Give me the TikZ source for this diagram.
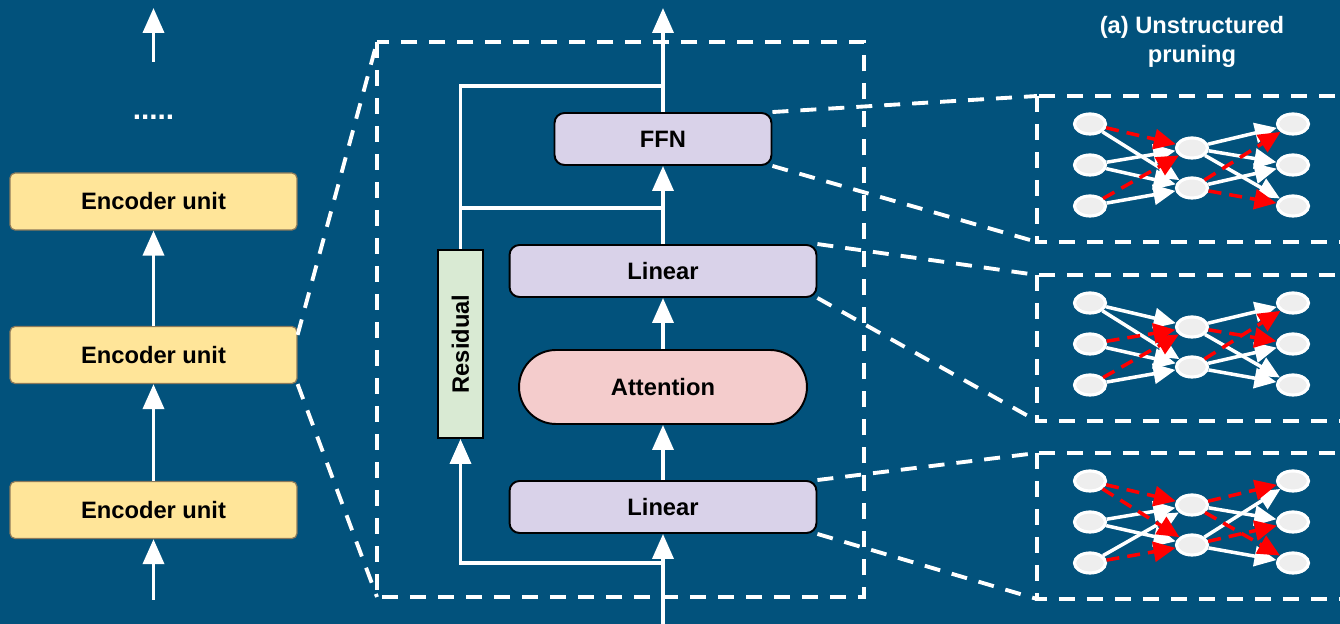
\documentclass[tikz,border=0pt]{standalone}
\usepackage{fontspec}
\setmainfont{Liberation Sans}
\usetikzlibrary{arrows.meta, positioning, shapes.geometric}
\definecolor{NavyBg}{HTML}{02527C}
\definecolor{EncYellow}{HTML}{FFE599}
\definecolor{EncEdge}{HTML}{8C7A5B}
\definecolor{LinPurple}{HTML}{D9D2E9}
\definecolor{AttnPink}{HTML}{F4CCCC}
\definecolor{ResGreen}{HTML}{D9EAD3}
\definecolor{NeuronGray}{HTML}{EEEEEE}
\definecolor{PruneRed}{HTML}{FF0000}

\begin{document}
\begin{tikzpicture}[x=0.02cm, y=-0.02cm,
  font=\fontsize{13.5}{16.5}\selectfont\bfseries,
  flow/.style={draw=white, line width=2.1pt, -{Triangle[length=0.5cm, width=0.42cm]}},
  wire/.style={draw=white, line width=2.1pt},
  zoomline/.style={draw=white, line width=2.2pt, dash pattern=on 0.32cm off 0.24cm},
  encbox/.style={draw=EncEdge, fill=EncYellow, rounded corners=0.1cm,
                 minimum width=5.74cm, minimum height=1.14cm, line width=0.7pt},
  blockbox/.style={draw=black, fill=LinPurple, rounded corners=0.2cm,
                   minimum height=1.04cm, line width=1.1pt},
  attnbox/.style={draw=black, fill=AttnPink, rounded corners=0.74cm,
                  minimum width=5.76cm, minimum height=1.48cm, line width=1.1pt},
  resbox/.style={draw=black, fill=ResGreen, minimum width=0.9cm,
                 minimum height=3.76cm, line width=1.1pt},
  neuron/.style={ellipse, draw=white, fill=NeuronGray, line width=1.8pt,
                 minimum width=0.62cm, minimum height=0.4cm, inner sep=0pt},
  kept/.style={draw=white, line width=2pt, -{Triangle[length=0.44cm, width=0.4cm]}},
  pruned/.style={draw=PruneRed, line width=2pt, dash pattern=on 0.26cm off 0.16cm,
                 -{Triangle[length=0.44cm, width=0.4cm]}}]
  \useasboundingbox (0,0) rectangle (1340,624);
  \fill[NavyBg] (0,0) rectangle (1340,624);

  % Encoder stack
  \node[encbox] (enc1) at (153.5,510) {Encoder unit};
  \node[encbox] (enc2) at (153.5,355) {Encoder unit};
  \node[encbox] (enc3) at (153.5,201.5) {Encoder unit};
  \node[text=white, anchor=base, font=\fontsize{17}{17}\selectfont\bfseries] (dots) at (153.5,120) {.....};
  \coordinate (stackin) at (153.5,600);
  \coordinate (stacktop) at (153.5,62);
  \coordinate (stackout) at (153.5,8);
  \draw[flow] (stackin) -- (enc1);
  \draw[flow] (enc1) -- (enc2);
  \draw[flow] (enc2) -- (enc3);
  \draw[flow] (stacktop) -- (stackout);

  % Inside one unit
  \coordinate (blknw) at (377,42);
  \coordinate (blksw) at (377,597);
  \draw[zoomline] (blknw) rectangle (864,597);
  \draw[zoomline] ([yshift=-0.18cm]enc2.north east) -- (blknw);
  \draw[zoomline] (enc2.south east) -- (blksw);

  \node[blockbox, minimum width=6.14cm] (lin1) at (663,507) {Linear};
  \node[attnbox] (attn) at (663,387) {Attention};
  \node[blockbox, minimum width=6.14cm] (lin2) at (663,271) {Linear};
  \node[blockbox, minimum width=4.34cm] (ffn) at (663,139) {FFN};
  \node[resbox] (res) at (460.5,344) {};
  \node[rotate=90] (restext) at (res.center) {Residual};

  \coordinate (xin) at (663,624);
  \coordinate (split) at (663,563);
  \coordinate (merge1) at (663,208);
  \coordinate (merge2) at (663,86);
  \coordinate (xout) at (663,8);
  \draw[flow] (xin) -- (lin1);
  \draw[flow] (split) -| (res.south);
  \draw[flow] (lin1) -- (attn);
  \draw[flow] (attn) -- (lin2);
  \draw[flow] (lin2) -- (ffn);
  \draw[flow] (ffn) -- (xout);
  \draw[wire] (res.north) |- (merge2);
  \draw[wire] (res.north |- merge1) -- (merge1);

  % Pruning panels
  \node[text=white, align=center] (title) at (1192,42) {(a) Unstructured\\pruning};
  \foreach \p/\y in {1/124, 2/303, 3/481} {
    \coordinate (p\p nw) at (1037,\y-28);
    \coordinate (p\p sw) at (1037,\y+118);
    \draw[zoomline] (p\p nw) rectangle (1362,\y+118);
    \foreach \k/\dy in {1/0, 2/41, 3/82} {
      \node[neuron] (p\p i\k) at (1090,\y+\dy) {};
      \node[neuron] (p\p o\k) at (1293,\y+\dy) {};
    }
    \node[neuron] (p\p h1) at (1192,\y+24) {};
    \node[neuron] (p\p h2) at (1192,\y+64) {};
  }
  \draw[zoomline] (ffn.north east) -- (p1nw);
  \draw[zoomline] (ffn.south east) -- (p1sw);
  \draw[zoomline] (lin2.north east) -- (p2nw);
  \draw[zoomline] (lin2.south east) -- (p2sw);
  \draw[zoomline] (lin1.north east) -- (p3nw);
  \draw[zoomline] (lin1.south east) -- (p3sw);

  % Panel 1
  \foreach \a/\b in {i1/h2, i2/h1, i2/h2, i3/h2, h1/o1, h1/o2, h1/o3, h2/o2}
    \draw[kept] (p1\a) -- (p1\b);
  \foreach \a/\b in {i1/h1, i3/h1, h2/o1, h2/o3}
    \draw[pruned] (p1\a) -- (p1\b);
  % Panel 2
  \foreach \a/\b in {i1/h1, i1/h2, i2/h2, i3/h2, h1/o1, h1/o3, h2/o2, h2/o3}
    \draw[kept] (p2\a) -- (p2\b);
  \foreach \a/\b in {i2/h1, i3/h1, h1/o2, h2/o1}
    \draw[pruned] (p2\a) -- (p2\b);
  % Panel 3
  \foreach \a/\b in {i2/h1, i2/h2, i3/h1, h1/o2, h2/o1, h2/o3}
    \draw[kept] (p3\a) -- (p3\b);
  \foreach \a/\b in {i1/h1, i1/h2, i3/h2, h1/o1, h1/o3, h2/o2}
    \draw[pruned] (p3\a) -- (p3\b);
\end{tikzpicture}
\end{document}
